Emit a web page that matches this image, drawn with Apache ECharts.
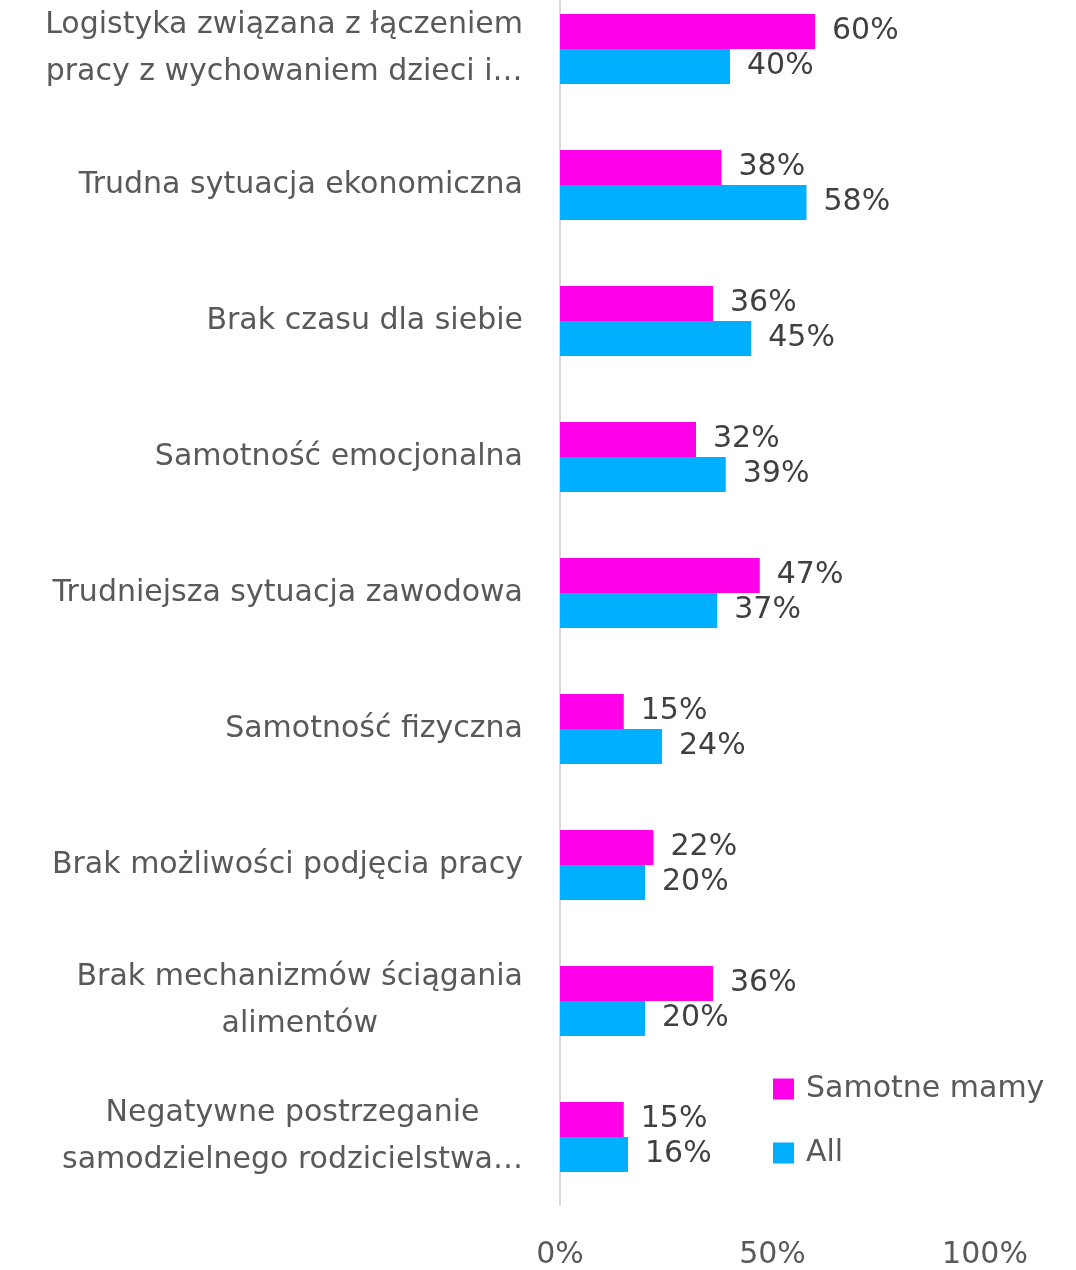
<!DOCTYPE html>
<html>
<head>
<meta charset="utf-8">
<script src="https://cdn.jsdelivr.net/npm/echarts@6/dist/echarts.min.js"></script>
<style>
  html, body { margin: 0; padding: 0; background: #fff; }
  #chart { width: 1076px; height: 1270px; }
</style>
</head>
<body>
<div id="chart"></div>
<script>
const categories = [
  "Logistyka związana z łączeniem\npracy z wychowaniem dzieci i…",
  "Trudna sytuacja ekonomiczna",
  "Brak czasu dla siebie",
  "Samotność emocjonalna",
  "Trudniejsza sytuacja zawodowa",
  "Samotność fizyczna",
  "Brak możliwości podjęcia pracy",
  "Brak mechanizmów ściągania\nalimentów",
  "Negatywne postrzeganie\nsamodzielnego rodzicielstwa…"
];
const singleMoms = [60, 38, 36, 32, 47, 15, 22, 36, 15];
const allRespondents = [40, 58, 45, 39, 37, 24, 20, 20, 16];
const xTicks = [0, 50, 100];

const font = "DejaVu Sans";
const fontSize = 30;
const textGray = "#595959";

const valueLabel = {
  show: true,
  position: "right",
  distance: 17,
  fontFamily: font,
  fontSize: fontSize,
  color: "#404040",
  formatter: (p) => p.value + "%"
};

const options = {
  animation: false,
  textStyle: { fontFamily: font },
  grid: {
    left: 560,
    right: 91,
    top: -19,
    height: 1224,
    containLabel: false,
    outerBoundsMode: "none"
  },
  legend: {
    orient: "vertical",
    left: 773,
    top: 1074,
    padding: 0,
    itemWidth: 21,
    itemHeight: 21,
    itemGap: 34,
    icon: "rect",
    textStyle: {
      fontFamily: font,
      fontSize: fontSize,
      color: textGray,
      lineHeight: 30,
      padding: [0, 0, 0, 7]
    },
    data: ["Samotne mamy", "All"]
  },
  xAxis: {
    type: "value",
    min: xTicks[0],
    max: xTicks[xTicks.length - 1],
    interval: 50,
    splitLine: { show: false },
    axisLine: { show: false },
    axisTick: { show: false },
    axisLabel: {
      margin: 35,
      fontFamily: font,
      fontSize: fontSize,
      color: textGray,
      formatter: (v) => v + "%"
    }
  },
  yAxis: {
    type: "category",
    inverse: true,
    data: categories,
    axisLine: { show: true, lineStyle: { color: "#d9d9d9", width: 2 } },
    axisTick: { show: false },
    axisLabel: {
      margin: 37,
      align: "right",
      fontFamily: font,
      fontSize: fontSize,
      color: textGray,
      lineHeight: 47,
      formatter: (v) => v.split("\n").map((s) => "{c|" + s + "}").join("\n"),
      rich: {
        c: { align: "center", fontFamily: font, fontSize: fontSize, color: textGray, lineHeight: 47 }
      }
    }
  },
  series: [
    {
      name: "Samotne mamy",
      type: "bar",
      data: singleMoms,
      barWidth: 35,
      barGap: "0%",
      itemStyle: { color: "#ff00e8" },
      label: valueLabel
    },
    {
      name: "All",
      type: "bar",
      data: allRespondents,
      barWidth: 35,
      barGap: "0%",
      itemStyle: { color: "#00b0ff" },
      label: valueLabel
    }
  ]
};

document.addEventListener("DOMContentLoaded", function () {
  const chart = echarts.init(document.getElementById("chart"));
  chart.setOption(options);
});
</script>
</body>
</html>
